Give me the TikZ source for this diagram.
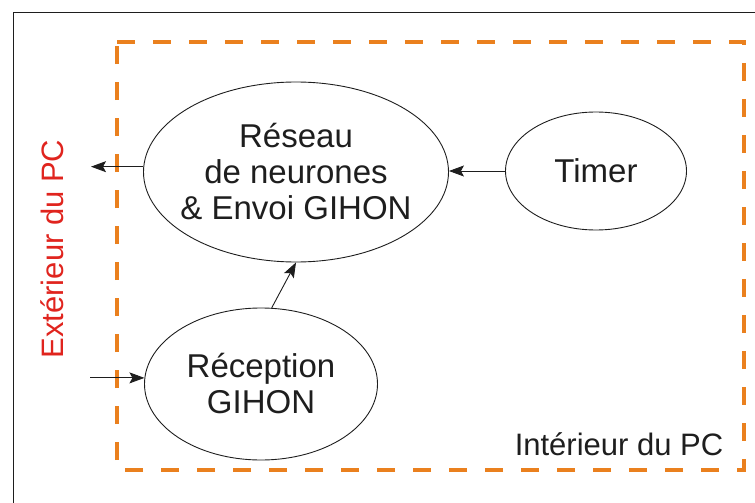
\documentclass[tikz,border=0pt]{standalone}
\usepackage{fontspec}
\setmainfont{Liberation Sans}
\usetikzlibrary{shapes.geometric,arrows.meta}
\definecolor{dashorange}{RGB}{234,128,30}
\definecolor{extred}{RGB}{224,36,30}
\definecolor{ink}{RGB}{30,30,30}
\begin{document}
\begin{tikzpicture}[x=1pt,y=-1pt,
  ell/.style={draw=ink,line width=0.9pt,ellipse,inner sep=0pt},
  txt/.style={font=\fontsize{33}{36}\selectfont,align=center,text=ink,inner sep=0pt},
  arr/.style={draw=ink,line width=0.9pt,-{Stealth[length=15pt,width=11pt,inset=3pt]}},
  zone/.style={draw=dashorange,line width=4pt,dash pattern=on 18pt off 18pt},
  frameline/.style={draw=ink,line width=1.2pt}]
\useasboundingbox (0,0) rectangle (755,503);
% outer frame
\draw[frameline] (13.5,503) -- (13.5,12.5) -- (755,12.5);
% dashed zone
\draw[zone] (117,42) -- (744,42) -- (744,470) -- (117,470) -- cycle;
% ellipses
\node[ell,minimum width=305pt,minimum height=180pt,
  label={[txt]center:Réseau\\de neurones\\\& Envoi GIHON}] (reseau) at (296,172) {};
\node[ell,minimum width=181pt,minimum height=118pt,
  label={[txt]center:Timer}] (timer) at (596,171) {};
\node[ell,minimum width=233pt,minimum height=152pt,
  label={[txt]center:Réception\\GIHON}] (recep) at (261,384) {};
% labels
\node[font=\fontsize{31}{34}\selectfont,text=extred,rotate=90,inner sep=0pt] (ext) at (52,249) {Extérieur du PC};
\node[font=\fontsize{31}{34}\selectfont,text=ink,anchor=base,inner sep=0pt] (int) at (619,455) {Intérieur du PC};
% free ends
\coordinate (outL) at (91,0);
\coordinate (inL) at (90,0);
% connectors
\draw[arr] (reseau.178.5) -- (reseau.178.5 -| outL);
\draw[arr] (timer.west) -- (timer.west -| reseau.east);
\draw[arr] (inL |- recep.177.5) -- (recep.177.5);
\draw[arr] (recep.82) -- (reseau.270);
\end{tikzpicture}
\end{document}
